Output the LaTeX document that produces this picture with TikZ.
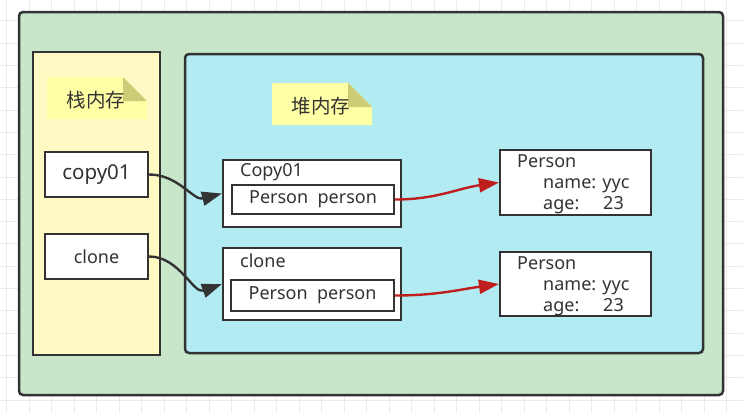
\documentclass[tikz,border=0pt]{standalone}
\usepackage{fontspec}
\setmainfont{Noto Sans}
\newfontfamily\cjk{Noto Sans CJK SC}
\usetikzlibrary{positioning,calc,arrows.meta}
\definecolor{linegray}{HTML}{333333}
\definecolor{textgray}{HTML}{333333}
\definecolor{gridgray}{HTML}{EBEBEB}
\definecolor{outergreen}{HTML}{C8E6C9}
\definecolor{stackyellow}{HTML}{FFF9C4}
\definecolor{heapblue}{HTML}{B2EBF2}
\definecolor{notefill}{HTML}{FFFFA5}
\definecolor{notefold}{HTML}{CCCC77}
\definecolor{refred}{HTML}{BF1E1E}

\begin{document}
\begin{tikzpicture}[x=1pt,y=-1pt,every node/.style={font=\fontsize{18}{21}\selectfont,text=textgray},
  box/.style={draw=linegray,line width=2.2pt,fill=white,inner sep=0pt},
  ptr/.style={draw=linegray,line width=2.4pt,-{Triangle[length=20pt,width=14pt]}},
  refptr/.style={draw=refred,line width=2.4pt,-{Triangle[length=20pt,width=14pt]}}]
\useasboundingbox (0,0) rectangle (743,413);
\fill[white] (0,0) rectangle (743,413);
% background grid
\foreach \x in {0,...,32} \draw[gridgray,line width=1pt] (6.5+22.5*\x,0) -- (6.5+22.5*\x,413);
\foreach \y in {0,...,18} \draw[gridgray,line width=1pt] (0,400-22.3*\y) -- (743,400-22.3*\y);

% memory areas
\draw[linegray,line width=2.5pt,fill=outergreen,rounded corners=4pt] (19,12) rectangle (723,395);
\draw[linegray,line width=2.5pt,fill=stackyellow] (33,52) rectangle (160,355);
\draw[linegray,line width=2.5pt,fill=heapblue,rounded corners=4pt] (185,54) rectangle (703,353);

% notes
\fill[notefill] (47,77) -- (123,77) -- (147,101) -- (147,119) -- (47,119) -- cycle;
\fill[notefold] (123,77) -- (123,101) -- (147,101) -- cycle;
\node[font=\cjk\fontsize{19.5}{22}\selectfont] (stacklabel) at (96,100) {栈内存};
\fill[notefill] (272,83) -- (348,83) -- (372,107) -- (372,125) -- (272,125) -- cycle;
\fill[notefold] (348,83) -- (348,107) -- (372,107) -- cycle;
\node[font=\cjk\fontsize{19.5}{22}\selectfont] (heaplabel) at (321,106) {堆内存};

% stack variables
\node[box,minimum width=103pt,minimum height=45pt,font=\fontsize{20.5}{24}\selectfont] (copy01) at (96.5,174.5) {copy01};
\node[box,minimum width=103pt,minimum height=45pt] (clone) at (96.5,256.5) {clone};

% heap objects
\node[box,minimum width=178pt,minimum height=67pt] (copyobj) at (312,193.5) {};
\node[anchor=west,inner sep=0pt] (copyname) at (240,172) {Copy01};
\node[box,minimum width=162pt,minimum height=29pt] (copyfield) at (313,199.5) {Person\ \ person};
\node[box,minimum width=178pt,minimum height=72pt] (cloneobj) at (312,284) {};
\node[anchor=west,inner sep=0pt] (clonename) at (240,261) {clone};
\node[box,minimum width=163pt,minimum height=31pt] (clonefield) at (312.5,295.5) {Person\ \ person};

\node[box,minimum width=151pt,minimum height=65pt] (person1) at (575.5,182.5) {};
\node[anchor=north west,align=left,inner sep=0pt] (person1text) at (517,154) {Person\\\hspace{26pt}name: yyc\\\hspace{26pt}\makebox[60pt][l]{age:}23};
\node[box,minimum width=151pt,minimum height=64pt] (person2) at (575.5,284) {};
\node[anchor=north west,align=left,inner sep=0pt] (person2text) at (517,256) {Person\\\hspace{26pt}name: yyc\\\hspace{26pt}\makebox[60pt][l]{age:}23};

% references
\draw[ptr] (copy01.east) to[out=0,in=195] (copyobj.west);
\draw[ptr] (clone.east) to[out=0,in=200] (cloneobj.west);
\draw[refptr] (copyfield.east) to[out=0,in=188] (person1.west);
\draw[refptr] (clonefield.east) to[out=0,in=188] (person2.west);
\end{tikzpicture}
\end{document}
